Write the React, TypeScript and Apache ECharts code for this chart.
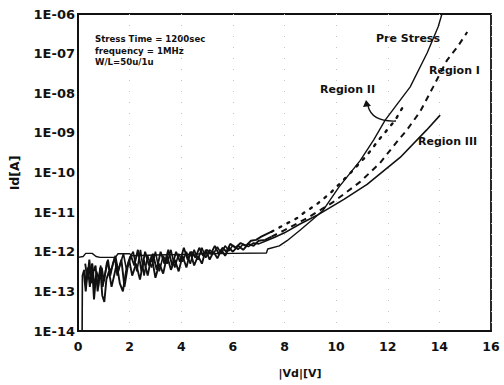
import React, { useEffect, useRef } from 'react';
import * as echarts from 'echarts';

// Axis tick labels
const yTickLabels = ['1E-14', '1E-13', '1E-12', '1E-11', '1E-10', '1E-09', '1E-08', '1E-07', '1E-06'];
const xTickValues = [0, 2, 4, 6, 8, 10, 12, 14, 16];

// Pre Stress (solid)
const preStressX = [0, 0.2, 0.3, 0.55, 0.7, 0.85, 1.45, 1.55, 2.0, 2.1, 3, 4, 5, 6, 7.3, 7.35, 7.8, 8.1, 8.6, 9.1, 9.5, 10.1, 10.93, 11.45, 11.9, 12.87, 13.53, 13.95, 14.1];
const preStressY = [7.2e-13, 7.6e-13, 9.1e-13, 9.1e-13, 7.6e-13, 7.2e-13, 7.2e-13, 8.9e-13, 8.9e-13, 7.9e-13, 8.3e-13, 8.5e-13, 8.9e-13, 9.1e-13, 9.3e-13, 1.17e-12, 1.41e-12, 1.9e-12, 3.5e-12, 6.6e-12, 1.12e-11, 4.2e-11, 2.0e-10, 6.6e-10, 2.1e-9, 1.45e-8, 1.05e-7, 4.7e-7, 1.0e-6];

// Region III (solid): noisy low-voltage part, then smooth part
const regionIIINoiseX = [0.16, 0.17, 0.24, 0.32, 0.4, 0.48, 0.56, 0.64, 0.72, 0.8, 0.88, 0.96, 1.04, 1.12, 1.22, 1.32, 1.42, 1.52, 1.64, 1.76, 1.88, 2.0, 2.14, 2.28, 2.42, 2.56, 2.7, 2.85, 3.0, 3.15, 3.3, 3.45, 3.6, 3.75, 3.9, 4.05, 4.2, 4.35, 4.5, 4.65, 4.8, 4.95, 5.1, 5.25, 5.4, 5.55, 5.7, 5.85, 6.0, 6.2, 6.4, 6.6, 6.8, 7.0, 7.2];
const regionIIINoiseY = [1e-14, 2.5e-13, 3.5e-13, 1.6e-13, 4e-13, 2.5e-13, 5e-13, 1.3e-13, 3.2e-13, 2e-13, 4.5e-13, 1.3e-13, 2.5e-13, 5.6e-13, 3.2e-13, 4e-13, 7.1e-13, 2.5e-13, 5e-13, 8.9e-13, 3.5e-13, 7.1e-13, 1e-12, 3.2e-13, 1.12e-12, 2.5e-13, 7.9e-13, 4e-13, 1e-12, 3.2e-13, 7.9e-13, 5e-13, 1.12e-12, 4e-13, 8.9e-13, 5.6e-13, 1e-12, 5e-13, 1.12e-12, 6.3e-13, 1.26e-12, 7.1e-13, 1.12e-12, 8.9e-13, 1.32e-12, 9e-13, 1.41e-12, 1.05e-12, 1.45e-12, 1.15e-12, 1.55e-12, 1.35e-12, 1.66e-12, 1.58e-12, 1.78e-12];
const regionIIIX = [7.6, 8.0, 8.6, 9.26, 10.3, 11.2, 12.48, 13.5, 14.03];
const regionIIIY = [2.3e-12, 3.0e-12, 5.0e-12, 8.3e-12, 2.1e-11, 5.0e-11, 2.4e-10, 1.17e-9, 2.8e-9];

// Region I (dashed): noisy low-voltage part, then smooth part
const regionINoiseX = [0.22, 0.3, 0.38, 0.46, 0.54, 0.62, 0.7, 0.78, 0.86, 0.94, 1.02, 1.1, 1.2, 1.3, 1.4, 1.5, 1.62, 1.74, 1.86, 1.98, 2.1, 2.25, 2.4, 2.55, 2.7, 2.85, 3.0, 3.15, 3.3, 3.45, 3.6, 3.75, 3.9, 4.05, 4.2, 4.35, 4.5, 4.65, 4.8, 4.95, 5.1, 5.25, 5.4, 5.55, 5.7, 5.85, 6.0, 6.2, 6.4, 6.6, 6.8, 7.0, 7.25, 7.5];
const regionINoiseY = [3.2e-13, 1e-13, 4e-13, 1.3e-13, 5e-13, 6.3e-14, 2.5e-13, 1.3e-13, 4e-13, 7.9e-14, 5.4e-14, 2e-13, 3.2e-13, 1.3e-13, 2.5e-13, 5e-13, 1.6e-13, 1e-13, 3.2e-13, 6.3e-13, 2.5e-13, 5e-13, 2e-13, 6.3e-13, 2.5e-13, 7.9e-13, 2.2e-13, 5e-13, 2.8e-13, 7.9e-13, 3.5e-13, 6.3e-13, 3.2e-13, 7.9e-13, 4e-13, 1e-12, 4.5e-13, 7.9e-13, 5e-13, 1.12e-12, 6.3e-13, 1e-12, 6.8e-13, 1.12e-12, 7.9e-13, 1.26e-12, 1e-12, 1.41e-12, 1.12e-12, 1.58e-12, 1.41e-12, 1.9e-12, 2e-12, 2.4e-12];
const regionIX = [7.5, 8.0, 8.88, 9.88, 10.93, 11.7, 12.36, 12.75, 13.26, 13.76, 14.3, 14.7, 15.08];
const regionIY = [2.4e-12, 3.5e-12, 7.1e-12, 1.78e-11, 5.8e-11, 1.74e-10, 6.0e-10, 1.2e-9, 3.5e-9, 1.45e-8, 6.9e-8, 1.48e-7, 3.5e-7];

// Region II (dotted): noisy low-voltage part, then smooth part
const regionIINoiseX = [0.28, 0.36, 0.44, 0.52, 0.6, 0.68, 0.76, 0.84, 0.92, 1.0, 1.08, 1.16, 1.25, 1.35, 1.45, 1.55, 1.68, 1.8, 1.92, 2.05, 2.18, 2.32, 2.46, 2.6, 2.75, 2.9, 3.05, 3.2, 3.35, 3.5, 3.65, 3.8, 3.95, 4.1, 4.25, 4.4, 4.55, 4.7, 4.85, 5.0, 5.15, 5.3, 5.45, 5.6, 5.75, 5.9, 6.1, 6.3, 6.5, 6.7, 6.9, 7.1, 7.3, 7.5];
const regionIINoiseY = [5e-13, 2e-13, 6.3e-13, 1.6e-13, 3.2e-13, 4.5e-13, 1e-13, 2.5e-13, 4e-13, 1.8e-13, 3.5e-13, 6.3e-13, 2.5e-13, 5e-13, 7.9e-13, 3.2e-13, 6.3e-13, 1.3e-13, 4e-13, 7.9e-13, 4.5e-13, 1.12e-12, 3.2e-13, 1e-12, 4.5e-13, 8.9e-13, 3.5e-13, 1e-12, 5e-13, 1.12e-12, 4.5e-13, 1e-12, 5.6e-13, 1.26e-12, 6.3e-13, 1e-12, 7.1e-13, 1.26e-12, 7.9e-13, 1.12e-12, 8.9e-13, 1.41e-12, 8.9e-13, 1.26e-12, 1e-12, 1.58e-12, 1.26e-12, 1.66e-12, 1.41e-12, 1.9e-12, 2e-12, 2.4e-12, 2.8e-12, 3.2e-12];
const regionIIX = [7.5, 7.83, 8.49, 8.72, 9.26, 9.77, 10.54, 11.2, 11.65, 12.29, 12.67];
const regionIIY = [3.2e-12, 4.2e-12, 7.1e-12, 9.3e-12, 1.6e-11, 3.0e-11, 9.5e-11, 2.75e-10, 6.6e-10, 2.1e-9, 5.6e-9];

const pairs = (xs: number[], ys: number[]) => xs.map((x, i) => [x, ys[i]]);

const INK = '#111';
const FONT = '"DejaVu Sans", "Liberation Sans", sans-serif';

export default function App() {
  const ref = useRef<HTMLDivElement>(null);

  useEffect(() => {
    if (!ref.current) return;
    const chart = echarts.init(ref.current, undefined, { renderer: 'svg' });

    const lineBase = { type: 'line', showSymbol: false, symbol: 'none', silent: true, z: 3 } as const;

    chart.setOption({
      animation: false,
      backgroundColor: '#fff',
      grid: {
        left: 78, right: 13, top: 14, bottom: 54,
        show: true, borderColor: INK, borderWidth: 1.8, backgroundColor: 'transparent',
      },
      xAxis: {
        type: 'value', min: 0, max: 16, interval: 2,
        axisLine: { show: true, lineStyle: { color: INK, width: 2 } },
        axisTick: { show: false },
        axisLabel: {
          color: INK, fontFamily: FONT, fontWeight: 'bold', fontSize: 12.5, margin: 9,
          formatter: (v: number) => (xTickValues.includes(v) ? String(v) : ''),
        },
        splitLine: { show: true, lineStyle: { color: '#c4c4c4', width: 1, type: [1, 10] } },
      },
      yAxis: {
        type: 'log', logBase: 10, min: 1e-14, max: 1e-6,
        axisLine: { show: true, lineStyle: { color: INK, width: 2 } },
        axisTick: { show: false },
        axisLabel: {
          color: INK, fontFamily: FONT, fontWeight: 'bold', fontSize: 13, margin: 3,
          formatter: (v: number) => {
            const e = Math.round(Math.log10(v));
            return yTickLabels[e + 14] ?? '';
          },
        },
        splitLine: { show: false },
      },
      series: [
        { ...lineBase, name: 'Pre Stress', data: pairs(preStressX, preStressY), lineStyle: { color: INK, width: 1.4 } },
        { ...lineBase, name: 'Region III', data: pairs(regionIIINoiseX, regionIIINoiseY).concat(pairs(regionIIIX, regionIIIY)), lineStyle: { color: INK, width: 1.6 } },
        { ...lineBase, name: 'Region I noise', data: pairs(regionINoiseX, regionINoiseY), lineStyle: { color: INK, width: 1.9 } },
        { ...lineBase, name: 'Region I', data: pairs(regionIX, regionIY), lineStyle: { color: INK, width: 2, type: [6, 5] } },
        { ...lineBase, name: 'Region II noise', data: pairs(regionIINoiseX, regionIINoiseY), lineStyle: { color: INK, width: 1.9 } },
        { ...lineBase, name: 'Region II', data: pairs(regionIIX, regionIIY), lineStyle: { color: INK, width: 2.4, type: [2, 7], cap: 'round' } },
      ],
      graphic: [
        { type: 'text', left: 95, top: 34, style: { text: 'Stress Time = 1200sec', font: `bold 8.6px ${FONT}`, fill: INK } },
        { type: 'text', left: 95, top: 46, style: { text: 'frequency = 1MHz', font: `bold 8.6px ${FONT}`, fill: INK } },
        { type: 'text', left: 95, top: 57, style: { text: 'W/L=50u/1u', font: `bold 8.6px ${FONT}`, fill: INK } },
        { type: 'text', left: 376, top: 33, style: { text: 'Pre Stress', font: `bold 11px ${FONT}`, fill: INK } },
        { type: 'text', left: 429, top: 65, style: { text: 'Region I', font: `bold 11px ${FONT}`, fill: INK } },
        { type: 'text', left: 320, top: 84, style: { text: 'Region II', font: `bold 11px ${FONT}`, fill: INK } },
        { type: 'text', left: 418, top: 136, style: { text: 'Region III', font: `bold 11px ${FONT}`, fill: INK } },
        {
          type: 'bezierCurve',
          shape: { x1: 396, y1: 121, x2: 368, y2: 106, cpx1: 372, cpy1: 122 },
          style: { stroke: INK, lineWidth: 1.3, fill: 'none' },
        },
        {
          type: 'polygon',
          shape: { points: [[366, 100], [363, 107], [371, 106]] },
          style: { fill: INK },
        },
        {
          type: 'text', x: 14, y: 173, rotation: Math.PI / 2,
          style: { text: 'Id[A]', font: `bold 12.5px ${FONT}`, fill: INK, align: 'center', verticalAlign: 'middle' },
        },
        {
          type: 'text', x: 300, y: 373,
          style: { text: '|Vd|[V]', font: `bold 11px ${FONT}`, fill: INK, align: 'center', verticalAlign: 'middle' },
        },
      ],
    });

    return () => chart.dispose();
  }, []);

  return <div ref={ref} style={{ position: 'fixed', left: 0, top: 0, width: 504, height: 385 }} />;
}
